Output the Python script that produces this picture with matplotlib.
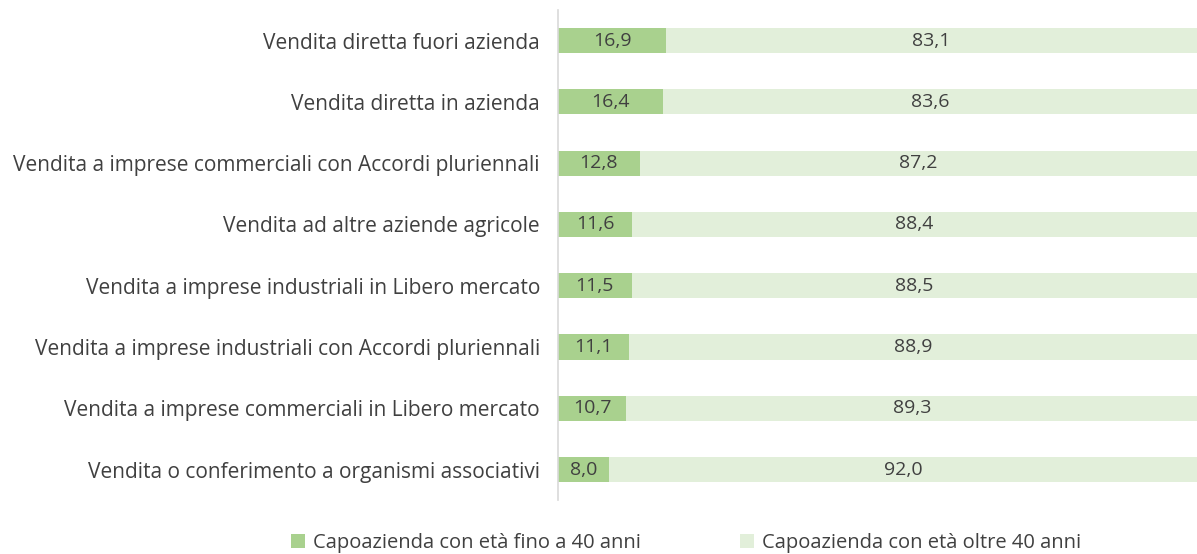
import matplotlib.pyplot as plt
import numpy as np

plt.rcParams['font.family'] = ['Open Sans', 'DejaVu Sans']

categorie = ["Vendita diretta fuori azienda",
             "Vendita diretta in azienda",
             "Vendita a imprese commerciali con Accordi pluriennali",
             "Vendita ad altre aziende agricole",
             "Vendita a imprese industriali in Libero mercato",
             "Vendita a imprese industriali con Accordi pluriennali",
             "Vendita a imprese commerciali in Libero mercato",
             "Vendita o conferimento a organismi associativi"]
fino_40 = [16.9, 16.4, 12.8, 11.6, 11.5, 11.1, 10.7, 8.0]
oltre_40 = [83.1, 83.6, 87.2, 88.4, 88.5, 88.9, 89.3, 92.0]
serie = ["Capoazienda con età fino a 40 anni", "Capoazienda con età oltre 40 anni"]

col_scuro = '#A9D18E'
col_chiaro = '#E2EFDA'
testo = '#404040'
fs = 14.5

fig = plt.figure(figsize=(11.97, 5.54), dpi=100)
ax = fig.add_axes([0.4662, 0.097, 0.5338, 0.885])

y = np.arange(len(categorie))
h = 0.41
b1 = ax.barh(y, fino_40, height=h, color=col_scuro, label=serie[0])
b2 = ax.barh(y, oltre_40, left=fino_40, height=h, color=col_chiaro, label=serie[1])

# etichette dei valori con la virgola decimale
for i in range(len(categorie)):
    ax.text(fino_40[i] / 2, y[i], f"{fino_40[i]:.1f}".replace('.', ','),
            ha='center', va='center', fontsize=fs - 0.5, color=testo)
    ax.text(fino_40[i] + oltre_40[i] / 2, y[i], f"{oltre_40[i]:.1f}".replace('.', ','),
            ha='center', va='center', fontsize=fs - 0.5, color=testo)

ax.set_xlim(0, 100)
ax.set_ylim(len(categorie) - 0.5, -0.5)
ax.set_yticks(y)
ax.set_yticklabels(categorie, fontsize=15, color=testo)
ax.tick_params(axis='y', length=0, pad=13)
ax.set_xticks([])
for s in ['top', 'right', 'bottom']:
    ax.spines[s].set_visible(False)
ax.spines['left'].set_color('#D9D9D9')
ax.spines['left'].set_linewidth(1.2)

fig.legend(handles=[b1, b2], labels=serie, loc='center', bbox_to_anchor=(0.573, 0.02),
           ncol=2, frameon=False, fontsize=fs, handlelength=0.7, handleheight=0.7,
           handletextpad=0.4, columnspacing=4.9, labelcolor=testo)

fig.savefig('out.png')
